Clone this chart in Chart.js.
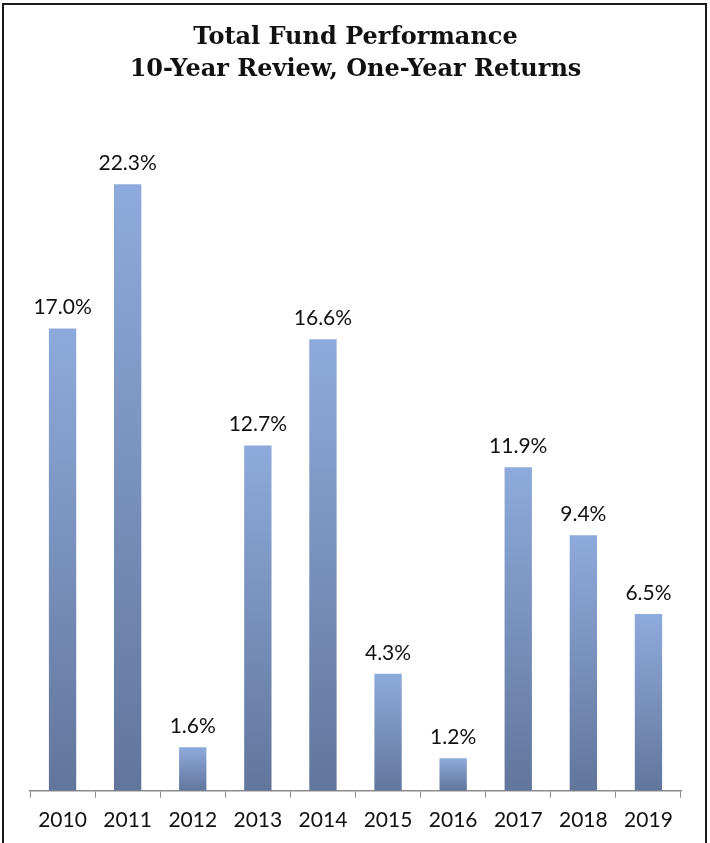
<!DOCTYPE html>
<html lang="en">
<head>
    <meta charset="UTF-8" />
    <title>Total Fund Performance</title>
    <script src="https://cdn.jsdelivr.net/npm/chart.js"></script>
    <style>
        html, body { margin: 0; padding: 0; background: #fff; }
        #wrap { position: relative; width: 710px; height: 843px; overflow: hidden; }
        #frame {
            position: absolute; left: 2px; top: 3px; width: 705px; height: 850px;
            border: 2px solid #1a1a1a; box-sizing: border-box;
        }
        #chartBox { position: absolute; left: 0; top: 0; width: 710px; height: 843px; }
    </style>
</head>
<body>
    <div id="wrap">
        <div id="frame"></div>
        <div id="chartBox"><canvas id="fundChart"></canvas></div>
    </div>

    <script>
        const years = ['2010', '2011', '2012', '2013', '2014', '2015', '2016', '2017', '2018', '2019'];
        const returns = [17.0, 22.3, 1.6, 12.7, 16.6, 4.3, 1.2, 11.9, 9.4, 6.5];
        const titleLines = ['Total Fund Performance', '10-Year Review, One-Year Returns'];

        // each bar gets its own top-to-bottom gradient
        function barGradient(context) {
            const chart = context.chart;
            const yScale = chart.scales.y;
            if (!chart.chartArea || !yScale || context.dataIndex === undefined) return '#7f99c8';
            const v = context.dataset.data[context.dataIndex];
            const top = yScale.getPixelForValue(v);
            const bottom = yScale.getPixelForValue(0);
            const g = chart.ctx.createLinearGradient(0, top, 0, bottom);
            g.addColorStop(0, '#8eaadc');
            g.addColorStop(1, '#62769c');
            return g;
        }

        const valueLabels = {
            id: 'valueLabels',
            afterDatasetsDraw(chart) {
                const ctx = chart.ctx;
                const meta = chart.getDatasetMeta(0);
                ctx.save();
                ctx.font = '21px Lato';
                ctx.fillStyle = '#111';
                ctx.textAlign = 'center';
                ctx.textBaseline = 'middle';
                meta.data.forEach((bar, i) => {
                    ctx.fillText(returns[i].toFixed(1) + '%', bar.x, bar.y - 21);
                });
                ctx.restore();
            }
        };

        const ctx = document.getElementById('fundChart').getContext('2d');
        new Chart(ctx, {
            type: 'bar',
            data: {
                labels: years,
                datasets: [{
                    data: returns,
                    backgroundColor: barGradient,
                    borderWidth: 0,
                    categoryPercentage: 1.0,
                    barPercentage: 0.42
                }]
            },
            options: {
                responsive: true,
                maintainAspectRatio: false,
                animation: false,
                layout: { padding: { left: 30, right: 29, top: 0, bottom: 0 } },
                plugins: {
                    legend: { display: false },
                    tooltip: { enabled: false },
                    title: {
                        display: true,
                        text: titleLines,
                        color: '#111',
                        font: { family: 'DejaVu Serif', size: 24, weight: 'bold', lineHeight: 1.33 },
                        padding: { top: 22, bottom: 25 }
                    }
                },
                scales: {
                    x: {
                        grid: {
                            display: true,
                            drawOnChartArea: false,
                            drawTicks: true,
                            tickLength: 7,
                            color: '#8c8c8c',
                            offset: true
                        },
                        border: { display: true, color: '#8c8c8c', width: 1.5 },
                        ticks: {
                            color: '#111',
                            font: { family: 'Lato', size: 21 },
                            padding: 10
                        }
                    },
                    y: {
                        display: false,
                        min: 0,
                        max: 25
                    }
                }
            },
            plugins: [valueLabels]
        });
    </script>
</body>
</html>
